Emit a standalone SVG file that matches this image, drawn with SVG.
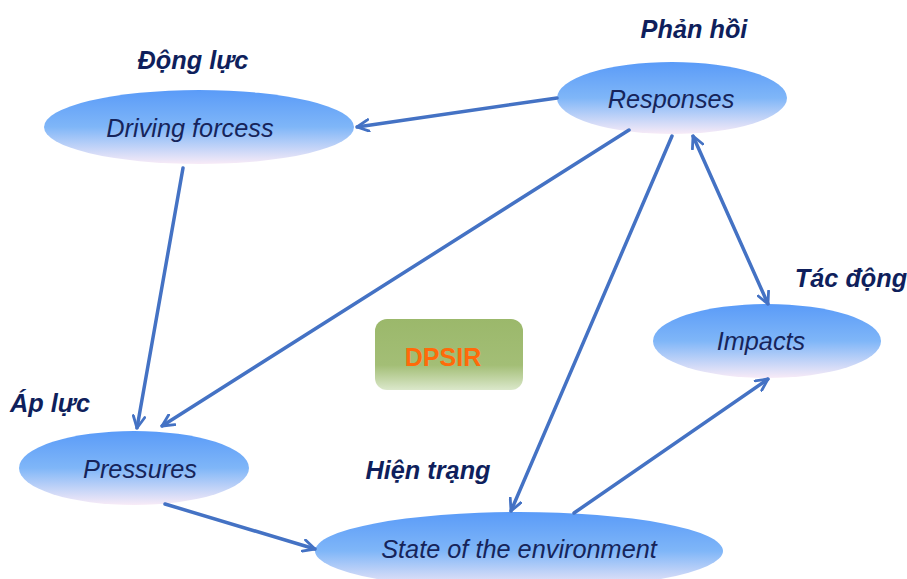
<svg xmlns="http://www.w3.org/2000/svg" width="907" height="579" viewBox="0 0 907 579">
<style>
.node-text{font-family:"Liberation Sans",Arial,sans-serif;font-style:italic;font-size:25.3px;fill:#16245a;text-anchor:middle;dominant-baseline:central}
.label{font-family:"Liberation Sans",Arial,sans-serif;font-style:italic;font-weight:bold;font-size:25.3px;fill:#0f1f5c;text-anchor:middle}
.conn{stroke:#4472c4;stroke-width:3.5;fill:none;stroke-linecap:round}
</style>
<defs>
<linearGradient id="ell" x1="0" y1="0" x2="0" y2="1">
<stop offset="0" stop-color="#5a9bf8"/>
<stop offset="0.5" stop-color="#7fb6f8"/>
<stop offset="1" stop-color="#f8ebf7"/>
</linearGradient>
<linearGradient id="box" x1="0" y1="0" x2="0" y2="1">
<stop offset="0" stop-color="#9bb86b"/>
<stop offset="0.65" stop-color="#a3be76"/>
<stop offset="1" stop-color="#dbe8cb"/>
</linearGradient>
<marker id="arr" viewBox="0 0 12 12" refX="11" refY="6" markerWidth="14" markerHeight="14" markerUnits="userSpaceOnUse" orient="auto-start-reverse">
<path d="M1,1 L11,6 L1,11" fill="none" stroke="#4472c4" stroke-width="2.4" stroke-linecap="round" stroke-linejoin="round"/>
</marker>
</defs>

<g id="driving">
<ellipse cx="199" cy="127" rx="155" ry="37" fill="url(#ell)"/>
<text class="node-text" x="190" y="128">Driving forcess</text>
</g>
<g id="responses">
<ellipse cx="672" cy="98" rx="115" ry="36" fill="url(#ell)"/>
<text class="node-text" x="671" y="99">Responses</text>
</g>
<g id="impacts">
<ellipse cx="767" cy="341" rx="114" ry="37" fill="url(#ell)"/>
<text class="node-text" x="761" y="341">Impacts</text>
</g>
<g id="pressures">
<ellipse cx="134" cy="468" rx="115" ry="37" fill="url(#ell)"/>
<text class="node-text" x="140" y="469">Pressures</text>
</g>
<g id="state">
<ellipse cx="519" cy="551" rx="204" ry="39" fill="url(#ell)"/>
<text class="node-text" x="519" y="549">State of the environment</text>
</g>
<g id="dpsir">
<rect x="375" y="319" width="148" height="71" rx="12" fill="url(#box)"/>
<text x="443" y="357" font-family="Liberation Sans,Arial,sans-serif" font-weight="bold" font-size="25" fill="#ff6a0a" text-anchor="middle" dominant-baseline="central">DPSIR</text>
</g>

<g id="labels">
<text class="label" x="193" y="69">Động lực</text>
<text class="label" x="694" y="38">Phản hồi</text>
<text class="label" x="851" y="287">Tác động</text>
<text class="label" x="50" y="412">Áp lực</text>
<text class="label" x="428" y="479">Hiện trạng</text>
</g>

<g id="connectors">
<line class="conn" x1="557" y1="98" x2="357" y2="127" marker-end="url(#arr)"/>
<line class="conn" x1="183" y1="168" x2="137" y2="428" marker-end="url(#arr)"/>
<line class="conn" x1="629" y1="130" x2="162" y2="426" marker-end="url(#arr)"/>
<line class="conn" x1="672" y1="136" x2="511" y2="511" marker-end="url(#arr)"/>
<line class="conn" x1="693" y1="136" x2="768" y2="304" marker-start="url(#arr)" marker-end="url(#arr)"/>
<line class="conn" x1="165" y1="504" x2="315" y2="549" marker-end="url(#arr)"/>
<line class="conn" x1="574" y1="513" x2="768" y2="379" marker-end="url(#arr)"/>
</g>
</svg>
